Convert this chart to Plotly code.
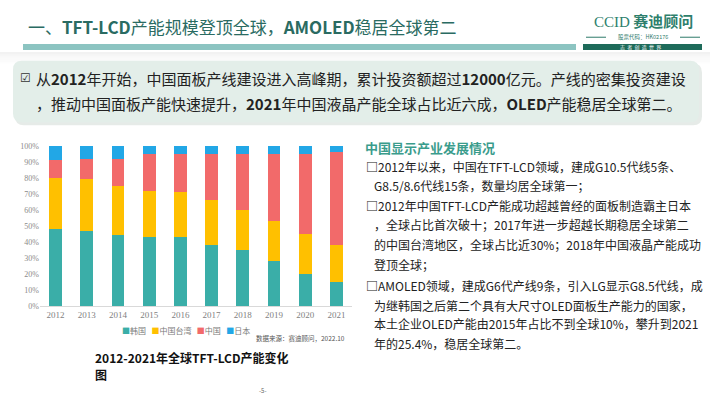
import plotly.graph_objects as go

W, H = 710, 399

# ---------------- data ----------------
years = ["2012", "2013", "2014", "2015", "2016", "2017", "2018", "2019", "2020", "2021"]
korea = [48, 47, 44, 43, 43, 38, 35, 28, 20, 15]
taiwan = [32, 32, 31, 29, 28, 28, 25, 25, 25, 23]
china = [11, 13, 17, 23, 24, 29, 35, 42, 50, 58]
japan = [9, 8, 8, 5, 5, 5, 5, 5, 5, 4]
series_names = ["韩国", "中国台湾", "中国", "日本"]
y_ticks = [0, 10, 20, 30, 40, 50, 60, 70, 80, 90, 100]
y_tick_labels = ["0%", "10%", "20%", "30%", "40%", "50%", "60%", "70%", "80%", "90%", "100%"]

colors = ["#3AAEA8", "#FFC000", "#F26A6A", "#22A7E6"]


def px(x):
    return x / W


def py(y):
    return 1 - y / H


fig = go.Figure()
for name, vals, c in zip(series_names, [korea, taiwan, china, japan], colors):
    fig.add_trace(go.Bar(x=years, y=vals, name=name, marker=dict(color=c, line=dict(width=0)),
                         showlegend=False))

CJK = "Noto Sans CJK SC"
SERIF = "Liberation Serif"

fig.update_layout(
    width=W, height=H, autosize=False,
    margin=dict(l=0, r=0, t=0, b=0),
    paper_bgcolor="white", plot_bgcolor="rgba(0,0,0,0)",
    barmode="stack", bargap=0.59,
    font=dict(family=CJK, color="#333"),
    xaxis=dict(domain=[px(40), px(352)], type="category", showgrid=False,
               showline=True, linecolor="#d9d9d9", linewidth=1, ticks="",
               tickfont=dict(family=SERIF, size=9, color="#7f7f7f"), fixedrange=True),
    yaxis=dict(domain=[py(309), py(145)], range=[0, 100], tickvals=y_ticks,
               ticktext=y_tick_labels, showgrid=False, zeroline=False, showline=False,
               tickfont=dict(family=SERIF, size=8, color="#8a8a8a"), fixedrange=True),
)

shapes = []
# title underline bar
shapes.append(dict(type="rect", xref="paper", yref="paper", x0=px(23), x1=px(576),
                   y0=py(47), y1=py(41), fillcolor="#8CC4C1", line=dict(width=0), layer="below"))
# soft shadow below header
for i, op in enumerate([0.10, 0.08, 0.06, 0.045, 0.03, 0.02]):
    shapes.append(dict(type="rect", xref="paper", yref="paper", x0=0, x1=1,
                       y0=py(49 + 2 * i + 2), y1=py(49 + 2 * i), fillcolor="#808080",
                       opacity=op, line=dict(width=0), layer="below"))


def path_px(x0, y0, x1, y1, r):
    def p(x, y):
        return f"{px(x):.5f},{py(y):.5f}"
    return (f"M {p(x0 + r, y0)} L {p(x1 - r, y0)} Q {p(x1, y0)} {p(x1, y0 + r)} "
            f"L {p(x1, y1 - r)} Q {p(x1, y1)} {p(x1 - r, y1)} L {p(x0 + r, y1)} "
            f"Q {p(x0, y1)} {p(x0, y1 - r)} L {p(x0, y0 + r)} Q {p(x0, y0)} {p(x0 + r, y0)} Z")


shapes.append(dict(type="path", xref="paper", yref="paper", path=path_px(15, 61, 702, 124, 9),
                   fillcolor="#D5DDD9", opacity=0.6, line=dict(width=0), layer="below"))
shapes.append(dict(type="path", xref="paper", yref="paper", path=path_px(13, 58, 699, 121, 9),
                   fillcolor="#E3EEE9", line=dict(width=0), layer="below"))
# logo bars
shapes.append(dict(type="rect", xref="paper", yref="paper", x0=px(583), x1=px(702),
                   y0=py(47), y1=py(41), fillcolor="#1E6B5A", line=dict(width=0)))
shapes.append(dict(type="line", xref="paper", yref="paper", x0=px(586), x1=px(606),
                   y0=py(34), y1=py(34), line=dict(color="#2E7A6A", width=1)))
shapes.append(dict(type="line", xref="paper", yref="paper", x0=px(680), x1=px(700),
                   y0=py(34), y1=py(34), line=dict(color="#2E7A6A", width=1)))
fig.update_layout(shapes=shapes)


def ann(x, y, text, size, color="#333", xanchor="left", family=CJK, yanchor="middle"):
    fig.add_annotation(xref="paper", yref="paper", x=px(x), y=py(y), text=text, showarrow=False,
                       xanchor=xanchor, yanchor=yanchor, align="left",
                       font=dict(family=family, size=size, color=color))


# header
ann(26, 23, "一、<b>TFT-LCD</b>产能规模登顶全球，<b>AMOLED</b>稳居全球第二", 17, color="#2A6B62")
ann(643, 17, "<span style='font-family:Liberation Serif'>CCID</span> <b>赛迪顾问</b>", 15,
    color="#2E7F6C", xanchor="center")
ann(643, 34, "股票代码：HK02176", 5.5, color="#2E7A6A", xanchor="center")
ann(640, 44, "志  者  创  造  世  界", 5, color="#FFFFFF", xanchor="center")

# summary box
ann(18, 76, "☑", 12, color="#333", family="DejaVu Sans")
ann(34, 76, "从<b>2012</b>年开始，中国面板产线建设进入高峰期，累计投资额超过<b>12000</b>亿元。产线的密集投资建设",
    15, color="#222")
ann(34, 102, "，推动中国面板产能快速提升，<b>2021</b>年中国液晶产能全球占比近六成，<b>OLED</b>产能稳居全球第二。",
    15, color="#222")

# right text
ann(363, 147, "<b>中国显示产业发展情况</b>", 13, color="#3A9C8C")
right_lines = [
    (364, 166, "<b>□</b>2012年以来，中国在TFT-LCD领域，建成G10.5代线5条、"),
    (372, 186, "G8.5/8.6代线15条，数量均居全球第一；"),
    (364, 206, "<b>□</b>2012年中国TFT-LCD产能成功超越曾经的面板制造霸主日本"),
    (372, 226, "，全球占比首次破十；2017年进一步超越长期稳居全球第二"),
    (372, 246, "的中国台湾地区，全球占比近30%；2018年中国液晶产能成功"),
    (372, 266, "登顶全球；"),
    (364, 288, "<b>□</b>AMOLED领域，建成G6代产线9条，引入LG显示G8.5代线，成"),
    (372, 308, "为继韩国之后第二个具有大尺寸OLED面板生产能力的国家，"),
    (372, 327, "本土企业OLED产能由2015年占比不到全球10%，攀升到2021"),
    (372, 347, "年的25.4%，稳居全球第二。"),
]
for x, y, t in right_lines:
    ann(x, y, t, 12, color="#222")

# legend + source
leg = "   ".join(f"<span style='color:{c}'>■</span>{n}" for n, c in zip(series_names, colors))
ann(186, 334, leg, 8, color="#7a7a7a", xanchor="center")
ann(347, 342, "数据来源：赛迪顾问，2022.10", 6.5, color="#555", xanchor="right")

# chart title
ann(93, 362, "<b>2012-2021年全球TFT-LCD产能变化</b>", 12, color="#111")
ann(93, 379, "<b>图</b>", 12, color="#111")

# page number
ann(263, 395, "-5-", 6, color="#666", xanchor="center")

fig.write_html("out.html", config={"displayModeBar": False},
               post_script="document.body.style.margin='0';document.body.style.padding='0';")
